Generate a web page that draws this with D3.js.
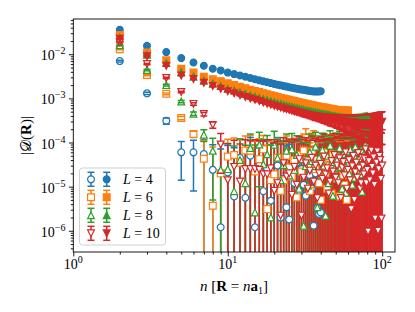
<!DOCTYPE html>
<html>
<head>
<meta charset="utf-8">
<script src="https://cdn.jsdelivr.net/npm/d3@7"></script>
<style>
body { margin: 0; background: #fff; }
svg { font-family: 'Liberation Serif', serif; }
</style>
</head>
<body>
<script>
// system sizes, colours, marker shapes and last n of each series
var sizes = [4, 6, 8, 10];
var colors = ['#1f77b4', '#ff7f0e', '#2ca02c', '#d62728'];
var shapes = ['circle', 'square', 'up', 'down'];
var nMax = [40, 60, 80, 100];

// filled markers, |D| for n = 2 .. nMax
var fill4 = [3.6e-2, 1.55e-2, 1.12e-2, 8.2e-3, 6.5e-3, 5.5e-3, 4.7e-3, 4.3e-3, 3.85e-3, 3.55e-3,
	3.3e-3, 3.1e-3, 2.9e-3, 2.72e-3, 2.57e-3, 2.44e-3, 2.32e-3, 2.22e-3, 2.13e-3, 2.05e-3,
	1.98e-3, 1.91e-3, 1.85e-3, 1.8e-3, 1.75e-3, 1.7e-3, 1.66e-3, 1.62e-3, 1.59e-3, 1.56e-3,
	1.53e-3, 1.5e-3, 1.48e-3, 1.46e-3, 1.44e-3, 1.43e-3, 1.43e-3, 1.44e-3, 1.46e-3];
var fill6 = [2.75e-2, 1.09e-2, 7.3e-3, 4.7e-3, 3.85e-3, 3.1e-3, 2.7e-3, 2.45e-3, 2.2e-3, 2.0e-3,
	1.84e-3, 1.7e-3, 1.58e-3, 1.48e-3, 1.39e-3, 1.31e-3, 1.24e-3, 1.18e-3, 1.13e-3, 1.08e-3,
	1.04e-3, 1.0e-3, 9.6e-4, 9.3e-4, 9.0e-4, 8.7e-4, 8.4e-4, 8.2e-4, 8.0e-4, 7.8e-4,
	7.6e-4, 7.4e-4, 7.2e-4, 7.0e-4, 6.9e-4, 6.7e-4, 6.6e-4, 6.5e-4, 6.4e-4, 6.3e-4,
	6.2e-4, 6.1e-4, 6.0e-4, 5.9e-4, 5.8e-4, 5.7e-4, 5.65e-4, 5.6e-4, 5.5e-4, 5.45e-4,
	5.4e-4, 5.35e-4, 5.3e-4, 5.3e-4, 5.25e-4, 5.25e-4, 5.25e-4, 5.3e-4, 5.35e-4];
var fill8 = [2.35e-2, 9.7e-3, 6.3e-3, 3.9e-3, 3.1e-3, 2.5e-3, 2.15e-3, 1.9e-3, 1.65e-3, 1.5e-3,
	1.37e-3, 1.26e-3, 1.17e-3, 1.09e-3, 1.02e-3, 9.6e-4, 9.1e-4, 8.6e-4, 8.2e-4, 7.8e-4,
	7.5e-4, 7.2e-4, 6.9e-4, 6.6e-4, 6.4e-4, 6.2e-4, 6.0e-4, 5.8e-4, 5.65e-4, 5.5e-4,
	5.35e-4, 5.2e-4, 5.1e-4, 5.0e-4, 4.9e-4, 4.8e-4, 4.7e-4, 4.6e-4, 4.5e-4, 4.45e-4,
	4.4e-4, 4.3e-4, 4.25e-4, 4.2e-4, 4.1e-4, 4.05e-4, 4.0e-4, 3.95e-4, 3.9e-4, 3.85e-4,
	3.8e-4, 3.75e-4, 3.7e-4, 3.7e-4, 3.65e-4, 3.6e-4, 3.6e-4, 3.6e-4, 3.55e-4, 3.55e-4,
	3.55e-4, 3.55e-4, 3.55e-4, 3.55e-4, 3.55e-4, 3.6e-4, 3.6e-4, 3.6e-4, 3.65e-4, 3.65e-4,
	3.7e-4, 3.7e-4, 3.75e-4, 3.8e-4, 3.8e-4, 3.85e-4, 3.9e-4, 3.9e-4, 3.95e-4];
var fill10 = [2.25e-2, 9.0e-3, 5.5e-3, 3.3e-3, 2.75e-3, 2.25e-3, 1.9e-3, 1.65e-3, 1.45e-3, 1.3e-3,
	1.18e-3, 1.08e-3, 1.0e-3, 9.3e-4, 8.7e-4, 8.1e-4, 7.6e-4, 7.2e-4, 6.8e-4, 6.5e-4,
	6.2e-4, 5.9e-4, 5.7e-4, 5.5e-4, 5.3e-4, 5.1e-4, 4.95e-4, 4.8e-4, 4.65e-4, 4.5e-4,
	4.4e-4, 4.3e-4, 4.2e-4, 4.1e-4, 4.0e-4, 3.9e-4, 3.85e-4, 3.8e-4, 3.7e-4, 3.65e-4,
	3.6e-4, 3.5e-4, 3.45e-4, 3.4e-4, 3.35e-4, 3.3e-4, 3.3e-4, 3.25e-4, 3.2e-4, 3.15e-4,
	3.1e-4, 3.1e-4, 3.05e-4, 3.0e-4, 3.0e-4, 2.95e-4, 2.95e-4, 2.9e-4, 2.9e-4, 2.85e-4,
	2.9e-4, 2.8e-4, 2.85e-4, 2.8e-4, 2.75e-4, 2.8e-4, 2.75e-4, 2.7e-4, 2.75e-4, 2.7e-4,
	2.7e-4, 2.75e-4, 2.65e-4, 2.7e-4, 2.7e-4, 2.65e-4, 2.7e-4, 2.65e-4, 2.7e-4, 2.6e-4,
	2.7e-4, 2.65e-4, 2.7e-4, 2.7e-4, 2.65e-4, 2.75e-4, 2.7e-4, 2.75e-4, 2.7e-4, 2.8e-4,
	2.75e-4, 2.8e-4, 2.8e-4, 2.85e-4, 2.8e-4, 2.9e-4, 2.85e-4, 2.9e-4, 2.95e-4];
// error bars of the filled L = 10 series (the others are hidden under the markers)
var errFill10 = [4e-4, 1.5e-4, 1e-4, 6e-5, 5e-5, 4e-5, 3.5e-5, 3e-5, 3e-5,
	2.5e-5, 2.5e-5, 2.5e-5, 3e-5, 3e-5, 3e-5, 3.5e-5, 3.5e-5, 4e-5, 4e-5,
	4e-5, 4.5e-5, 4e-5, 5e-5, 4.5e-5, 5e-5, 5.5e-5, 5e-5, 6e-5, 5.5e-5,
	6e-5, 6.5e-5, 6e-5, 7e-5, 6.5e-5, 7e-5, 7.5e-5, 7e-5, 8e-5, 7.5e-5,
	8e-5, 8.5e-5, 8e-5, 9e-5, 8.5e-5, 9.5e-5, 9e-5, 1e-4, 9.5e-5, 1e-4,
	1.05e-4, 1e-4, 1.1e-4, 1.05e-4, 1.15e-4, 1.1e-4, 1.2e-4, 1.15e-4, 1.2e-4, 1.25e-4,
	1.2e-4, 1.3e-4, 1.25e-4, 1.3e-4, 1.35e-4, 1.3e-4, 1.4e-4, 1.35e-4, 1.4e-4, 1.45e-4,
	1.4e-4, 1.5e-4, 1.45e-4, 1.5e-4, 1.55e-4, 1.5e-4, 1.6e-4, 1.55e-4, 1.6e-4, 1.65e-4,
	1.6e-4, 1.7e-4, 1.65e-4, 1.7e-4, 1.75e-4, 1.7e-4, 1.8e-4, 1.75e-4, 1.8e-4, 1.85e-4,
	1.8e-4, 1.9e-4, 1.85e-4, 1.9e-4, 1.95e-4, 1.9e-4, 2e-4, 1.95e-4, 2e-4, 2.05e-4];

// open markers, |D| and error for n = 2 .. nMax
var open4 = [7.0e-3, 1.3e-3, 3.1e-4, 6.0e-5, 6.0e-5, 5.5e-5, 2.4e-5, 1.2e-6, 2.1e-5, 6.0e-6,
	4.5e-5, 5.6e-6, 5.0e-5, 1.2e-6, 3.0e-5, 7.9e-6, 2.5e-5, 4.8e-6, 1.6e-5, 3.0e-5,
	2.0e-6, 1.5e-5, 3.4e-6, 1.8e-6, 2.2e-5, 1.2e-5, 3.5e-5, 8.0e-6, 2.5e-5, 1.1e-5,
	6.2e-6, 4.0e-5, 1.8e-5, 9.0e-6, 1.3e-6, 2.0e-5, 3.3e-6, 2.4e-6, 2.6e-6];
var errOpen4 = [3e-4, 8e-5, 5e-5, 4.6e-5, 5.2e-5, 6e-5, 6.5e-5, 7e-5, 6.5e-5, 7e-5,
	7.5e-5, 7e-5, 8e-5, 7.5e-5, 8e-5, 7.5e-5, 8e-5, 8.5e-5, 8e-5, 8.5e-5,
	9e-5, 8.5e-5, 8e-5, 9e-5, 8.5e-5, 9e-5, 8.5e-5, 9e-5, 9.5e-5, 9e-5,
	9.5e-5, 9e-5, 1e-4, 9.5e-5, 9e-5, 1e-4, 9.5e-5, 1e-4, 9.5e-5];
var open6 = [1.3e-2, 3.4e-3, 1.27e-3, 3.6e-4, 1.55e-4, 4.3e-5, 3.7e-6, 2.0e-5, 4.8e-5, 5.2e-5,
	3.5e-5, 6.6e-5, 6.5e-5, 2.2e-5, 4.2e-5, 7.0e-5, 3.1e-6, 1.4e-5, 1.9e-5, 4.5e-5,
	8e-6, 1.4e-5, 5.0e-5, 2.7e-5, 1.7e-5, 4.0e-5, 5.7e-6, 5.2e-5, 2.2e-5, 6.6e-5,
	1.26e-4, 3e-5, 8e-6, 6.3e-5, 1.0e-4, 2.5e-5, 4e-5, 1.2e-5, 5.0e-6, 3.5e-5,
	6e-5, 2e-5, 9e-6, 4.5e-5, 3e-5, 7e-6, 5.5e-5, 2.5e-5, 4.8e-5, 1.5e-5,
	3.8e-5, 6e-6, 2.8e-5, 4e-5, 1.8e-5, 1.1e-5, 3.2e-5, 5e-6, 2.2e-5];
var errOpen6 = [4e-4, 1.2e-4, 6e-5, 3e-5, 2.5e-5, 7e-5, 7.5e-5, 8e-5, 7e-5, 7.5e-5,
	8e-5, 7.5e-5, 8e-5, 8.5e-5, 8e-5, 7.5e-5, 8.5e-5, 9e-5, 8.5e-5, 8e-5,
	9e-5, 8.5e-5, 9e-5, 8e-5, 9e-5, 8.5e-5, 9.5e-5, 9e-5, 8.5e-5, 9e-5,
	8e-5, 9.5e-5, 9e-5, 1e-4, 8.5e-5, 9.5e-5, 9e-5, 1e-4, 9.5e-5, 9e-5,
	1e-4, 9.5e-5, 1.05e-4, 1e-4, 9.5e-5, 1.05e-4, 1e-4, 1.1e-4, 1e-4, 1.05e-4,
	1.1e-4, 1e-4, 1.05e-4, 1.1e-4, 1.05e-4, 1e-4, 1.1e-4, 1.05e-4, 1.1e-4];
var open8 = [1.6e-2, 4.4e-3, 2.0e-3, 8.5e-4, 4.5e-4, 1.5e-4, 6.5e-5, 2.4e-5,
	2.5e-5, 7.9e-6, 4.0e-5, 1.2e-5, 7.5e-5, 2.6e-6, 9.0e-5, 3.2e-5, 5.4e-5, 2.0e-6,
	8.9e-5, 4.5e-5, 1.4e-5, 3.1e-5, 6.5e-5, 1.8e-5, 7.0e-5, 2.4e-5, 5.2e-5, 9e-6,
	4.2e-5, 1.3e-6, 2.9e-5, 1.05e-5, 6e-5, 3.8e-5, 2.9e-5, 8e-5, 3.4e-6, 4.5e-5,
	1.8e-5, 6.8e-5, 3e-5, 2.2e-6, 5e-5, 1.2e-5, 8.5e-5, 3.6e-5, 6.2e-6, 2.6e-5,
	6.0e-5, 4.0e-5, 1.5e-5, 7.5e-5, 2.8e-5, 9e-6, 5.5e-5, 3.3e-5, 7.3e-6, 6.3e-5,
	4.2e-5, 2.0e-5, 7.0e-5, 3.0e-5, 1.1e-5, 1.6e-5, 5.0e-5, 8.0e-5, 3.6e-5, 2.4e-5,
	6.0e-5, 4.4e-5, 1.9e-5, 6.8e-5, 7.7e-6, 3.2e-5, 5.3e-5, 2.7e-5, 9.0e-5, 4.0e-5,
	8.3e-5];
var errOpen8 = [5e-4, 1.5e-4, 8e-5, 5e-5, 4e-5, 4.5e-5, 6e-5, 7e-5,
	7e-5, 7.5e-5, 8e-5, 7.5e-5, 8e-5, 8.5e-5, 8e-5, 8.5e-5, 9e-5, 8.5e-5,
	9e-5, 8.5e-5, 9e-5, 8e-5, 9e-5, 9.5e-5, 9e-5, 8.5e-5, 9e-5, 9.5e-5,
	9e-5, 9.5e-5, 1e-4, 9e-5, 9.5e-5, 1e-4, 9.5e-5, 9e-5, 1e-4, 9.5e-5,
	1e-4, 9.5e-5, 1.05e-4, 1e-4, 9.5e-5, 1.05e-4, 1e-4, 9.5e-5, 1.05e-4, 1e-4,
	1.05e-4, 1e-4, 1.1e-4, 1.05e-4, 1e-4, 1.1e-4, 1.05e-4, 1e-4, 1.1e-4, 1.05e-4,
	1.1e-4, 1.05e-4, 1e-4, 1.1e-4, 1.05e-4, 1.1e-4, 1e-4, 1.05e-4, 1.1e-4, 1.05e-4,
	1.1e-4, 1.05e-4, 1.1e-4, 1e-4, 1.05e-4, 1.1e-4, 1.05e-4, 1e-4, 1.1e-4, 1.05e-4,
	1.1e-4];
var open10 = [1.85e-2, 6.0e-3, 2.9e-3, 1.4e-3, 7.5e-4, 4.4e-4, 2.5e-4, 9.0e-5,
	1.4e-5, 2.8e-5, 1.3e-5, 2.5e-5, 2.5e-5, 2.5e-5, 2.4e-5, 1.9e-5, 1.9e-5, 2.6e-5,
	8e-6, 1.2e-5, 2.2e-6, 3.4e-5, 1.7e-5, 2.0e-5, 6.5e-6, 2.8e-5, 1.1e-5, 4.2e-5,
	2.2e-6, 1.6e-5, 3.4e-5, 9e-6, 2.3e-5, 4.5e-5, 1.3e-5, 3.0e-5, 5.5e-6, 2.0e-5,
	3.3e-5, 1.5e-5, 4.8e-5, 1.9e-5, 2.6e-5, 7e-6, 1.3e-5, 3.8e-5, 2.2e-5, 5.2e-5,
	1.6e-5, 3e-5, 1.2e-5, 4.4e-5, 5.5e-6, 2.7e-5, 3.6e-5, 1.8e-5, 6.0e-5, 9e-6,
	2.4e-5, 4.0e-5, 1.4e-5, 3.1e-6, 2.9e-5, 5.0e-5, 5e-6, 2.1e-5, 3.5e-5, 1.6e-5,
	5.8e-5, 2.6e-5, 9e-6, 1.2e-5, 4.5e-5, 3.0e-5, 1.9e-5, 4.2e-5, 7e-5, 1.2e-5,
	2.4e-5, 9.6e-7, 3.8e-5, 1.4e-5, 5.5e-5, 6.6e-5, 2.8e-5, 2.0e-5, 4.6e-5, 1.1e-5,
	1.9e-6, 3.3e-5, 3.5e-5, 6.3e-5, 1.0e-6, 2.5e-5, 5.0e-5, 4.0e-5, 1.5e-5, 1.9e-6,
	3.0e-5];
var errOpen10 = [5e-4, 2e-4, 1e-4, 6e-5, 5e-5, 4e-5, 4e-5, 7e-5,
	8e-5, 8.5e-5, 8e-5, 9e-5, 8.5e-5, 9e-5, 8.5e-5, 9e-5, 9.5e-5, 9e-5,
	9e-5, 9.5e-5, 9e-5, 9.5e-5, 9e-5, 1e-4, 9.5e-5, 9e-5, 1e-4, 9.5e-5,
	9e-5, 1e-4, 9.5e-5, 1e-4, 9e-5, 9.5e-5, 1e-4, 9.5e-5, 1e-4, 9.5e-5,
	1e-4, 9.5e-5, 1.05e-4, 1e-4, 9.5e-5, 1.05e-4, 1e-4, 1.1e-4, 1e-4, 1.05e-4,
	1.1e-4, 1.05e-4, 1.15e-4, 1.1e-4, 1.05e-4, 1.15e-4, 1.2e-4, 1.1e-4, 1.2e-4, 1.15e-4,
	1.2e-4, 1.25e-4, 1.15e-4, 1.25e-4, 1.2e-4, 1.3e-4, 1.25e-4, 1.2e-4, 1.3e-4, 1.25e-4,
	1.3e-4, 1.35e-4, 1.25e-4, 1.3e-4, 1.35e-4, 1.4e-4, 1.3e-4, 1.35e-4, 1.4e-4, 1.35e-4,
	1.4e-4, 1.45e-4, 1.35e-4, 1.4e-4, 1.5e-4, 1.45e-4, 1.4e-4, 1.5e-4, 1.45e-4, 1.5e-4,
	1.55e-4, 1.5e-4, 1.45e-4, 1.55e-4, 1.6e-4, 1.5e-4, 1.55e-4, 1.6e-4, 1.55e-4, 1.6e-4,
	1.65e-4];

var fillVals = [fill4, fill6, fill8, fill10];
var fillErrs = [null, null, null, errFill10];
var openVals = [open4, open6, open8, open10];
var openErrs = [errOpen4, errOpen6, errOpen8, errOpen10];

// Set dimensions (plot box in page pixels)
var W = 415, H = 312;
var box = { left: 73.3, right: 395, top: 19, bottom: 252 };

var x = d3.scaleLog().domain([1, 121]).range([box.left, box.right]);
var y = d3.scaleLog().domain([3.3e-7, 6.3e-2]).range([box.bottom, box.top]);

var svg = d3
	.select('body')
	.append('svg')
	.attr('width', W)
	.attr('height', H);

svg.append('rect').attr('width', W).attr('height', H).attr('fill', '#fff');

svg
	.append('clipPath')
	.attr('id', 'plotclip')
	.append('rect')
	.attr('x', box.left)
	.attr('y', box.top)
	.attr('width', box.right - box.left)
	.attr('height', box.bottom - box.top);

// marker outline, s = half width
function markerPath(shape, s) {
	if (shape === 'circle') return d3.symbol(d3.symbolCircle, Math.PI * s * s)();
	if (shape === 'square') return 'M' + -s + ',' + -s + 'h' + 2 * s + 'v' + 2 * s + 'h' + -2 * s + 'Z';
	if (shape === 'up') return 'M0,' + -s + 'L' + s + ',' + s + 'L' + -s + ',' + s + 'Z';
	return 'M0,' + s + 'L' + s + ',' + -s + 'L' + -s + ',' + -s + 'Z';
}

// build series in drawing order: open then filled for each L
var series = [];
sizes.forEach((L, i) => {
	var ns = d3.range(2, nMax[i] + 1);
	[['open', openVals[i], openErrs[i]], ['fill', fillVals[i], fillErrs[i]]].forEach(t => {
		var pts = [];
		ns.forEach((n, k) => {
			if (t[1][k] === undefined) return;
			pts.push({ n: n, v: t[1][k], e: t[2] ? t[2][k] : 0 });
		});
		series.push({ L: L, color: colors[i], shape: shapes[i], kind: t[0], pts: pts });
	});
});

var plot = svg.append('g').attr('clip-path', 'url(#plotclip)');
var capW = 3.5;
var ms = 3.4;

// error bar stems first (collections sit under all markers)
series.forEach(s => {
	plot
		.append('g')
		.selectAll('line')
		.data(s.pts.filter(d => d.e > 0))
		.enter()
		.append('line')
		.attr('x1', d => x(d.n))
		.attr('x2', d => x(d.n))
		.attr('y1', d => y(d.v + d.e))
		.attr('y2', d => (d.v - d.e > 0 ? y(d.v - d.e) : box.bottom + 5))
		.attr('stroke', s.color)
		.attr('stroke-width', 1.5);
});

// then markers and caps
series.forEach(s => {
	var g = plot.append('g');
	g.selectAll('path')
		.data(s.pts)
		.enter()
		.append('path')
		.attr('transform', d => 'translate(' + x(d.n) + ',' + y(d.v) + ')')
		.attr('d', markerPath(s.shape, ms))
		.attr('fill', s.kind === 'open' ? '#fff' : s.color)
		.attr('stroke', s.color)
		.attr('stroke-width', 1.2);

	var caps = [];
	s.pts.forEach(d => {
		if (!(d.e > 0)) return;
		caps.push({ n: d.n, c: d.v + d.e });
		if (d.v - d.e > 0) caps.push({ n: d.n, c: d.v - d.e });
	});
	g.selectAll('line')
		.data(caps)
		.enter()
		.append('line')
		.attr('x1', d => x(d.n) - capW)
		.attr('x2', d => x(d.n) + capW)
		.attr('y1', d => y(d.c))
		.attr('y2', d => y(d.c))
		.attr('stroke', s.color)
		.attr('stroke-width', 1.5);
});

// axes frame
svg
	.append('rect')
	.attr('x', box.left)
	.attr('y', box.top)
	.attr('width', box.right - box.left)
	.attr('height', box.bottom - box.top)
	.attr('fill', 'none')
	.attr('stroke', '#000')
	.attr('stroke-width', 0.9);

// minor tick positions
var xMinor = [], yMinor = [];
[1, 10, 100].forEach(b => d3.range(2, 10).forEach(m => { if (m * b < 121) xMinor.push(m * b); }));
[1e-7, 1e-6, 1e-5, 1e-4, 1e-3, 1e-2].forEach(b =>
	d3.range(2, 10).forEach(m => { if (m * b > 3.3e-7 && m * b < 6.3e-2) yMinor.push(m * b); })
);
var xMajor = [1, 10, 100];
var yMajor = [1e-6, 1e-5, 1e-4, 1e-3, 1e-2];

function tickStyle(g) {
	g.select('.domain').remove();
	g.selectAll('line').attr('stroke', '#000').attr('stroke-width', 0.9);
}

svg
	.append('g')
	.attr('transform', 'translate(0,' + box.bottom + ')')
	.call(d3.axisBottom(x).tickValues(xMinor).tickSize(2.5).tickFormat(''))
	.call(tickStyle);
svg
	.append('g')
	.attr('transform', 'translate(0,' + box.bottom + ')')
	.call(d3.axisBottom(x).tickValues(xMajor).tickSize(4.4).tickFormat(''))
	.call(tickStyle);
svg
	.append('g')
	.attr('transform', 'translate(' + box.left + ',0)')
	.call(d3.axisLeft(y).tickValues(yMinor).tickSize(2.5).tickFormat(''))
	.call(tickStyle);
svg
	.append('g')
	.attr('transform', 'translate(' + box.left + ',0)')
	.call(d3.axisLeft(y).tickValues(yMajor).tickSize(4.4).tickFormat(''))
	.call(tickStyle);

// power-of-ten labels
function powLabel(t, exp) {
	t.append('tspan').text('10');
	t.append('tspan').attr('dy', -6).style('font-size', '10px').text(exp);
}
xMajor.forEach(v => {
	var t = svg
		.append('text')
		.attr('x', x(v))
		.attr('y', 269)
		.attr('text-anchor', 'middle')
		.style('font-size', '14px');
	powLabel(t, String(Math.round(Math.log10(v))));
});
yMajor.forEach(v => {
	var t = svg
		.append('text')
		.attr('x', 65.5)
		.attr('y', y(v) + 6)
		.attr('text-anchor', 'end')
		.style('font-size', '14px');
	powLabel(t, '\u2212' + Math.round(-Math.log10(v)));
});

// axis labels
var xl = svg
	.append('text')
	.attr('x', 234)
	.attr('y', 291)
	.attr('text-anchor', 'middle')
	.style('font-size', '15px');
xl.append('tspan').style('font-style', 'italic').text('n');
xl.append('tspan').text(' [');
xl.append('tspan').style('font-weight', 'bold').text('R');
xl.append('tspan').text(' = ');
xl.append('tspan').style('font-style', 'italic').text('n');
xl.append('tspan').style('font-weight', 'bold').text('a');
xl.append('tspan').attr('dy', 3).style('font-size', '10px').text('1');
xl.append('tspan').attr('dy', -3).text(']');

var yl = svg
	.append('text')
	.attr('transform', 'translate(31,135.5) rotate(-90)')
	.attr('text-anchor', 'middle')
	.style('font-size', '15px');
yl.append('tspan').text('|');
yl.append('tspan').style('font-family', "'DejaVu Sans', 'DejaVu Serif', serif").text('\uD835\uDC9F');
yl.append('tspan').text('(');
yl.append('tspan').style('font-weight', 'bold').text('R');
yl.append('tspan').text(')|');

// legend
var leg = svg.append('g');
leg
	.append('rect')
	.attr('x', 79.5)
	.attr('y', 168)
	.attr('width', 86)
	.attr('height', 77)
	.attr('rx', 3)
	.attr('fill', '#fff')
	.attr('fill-opacity', 0.8)
	.attr('stroke', '#ccc')
	.attr('stroke-width', 0.9);

sizes.forEach((L, i) => {
	var cy = 179.3 + i * 18;
	[[91, '#fff'], [106.7, colors[i]]].forEach(m => {
		leg
			.append('line')
			.attr('x1', m[0])
			.attr('x2', m[0])
			.attr('y1', cy - 7)
			.attr('y2', cy + 7)
			.attr('stroke', colors[i])
			.attr('stroke-width', 1.5);
		[cy - 7, cy + 7].forEach(c =>
			leg
				.append('line')
				.attr('x1', m[0] - capW)
				.attr('x2', m[0] + capW)
				.attr('y1', c)
				.attr('y2', c)
				.attr('stroke', colors[i])
				.attr('stroke-width', 1.5)
		);
		leg
			.append('path')
			.attr('transform', 'translate(' + m[0] + ',' + cy + ')')
			.attr('d', markerPath(shapes[i], ms))
			.attr('fill', m[1])
			.attr('stroke', colors[i])
			.attr('stroke-width', 1.2);
	});
	var t = leg
		.append('text')
		.attr('x', 123)
		.attr('y', cy + 5)
		.style('font-size', '14px');
	t.append('tspan').style('font-style', 'italic').text('L');
	t.append('tspan').text(' = ' + L);
});
</script>
</body>
</html>
